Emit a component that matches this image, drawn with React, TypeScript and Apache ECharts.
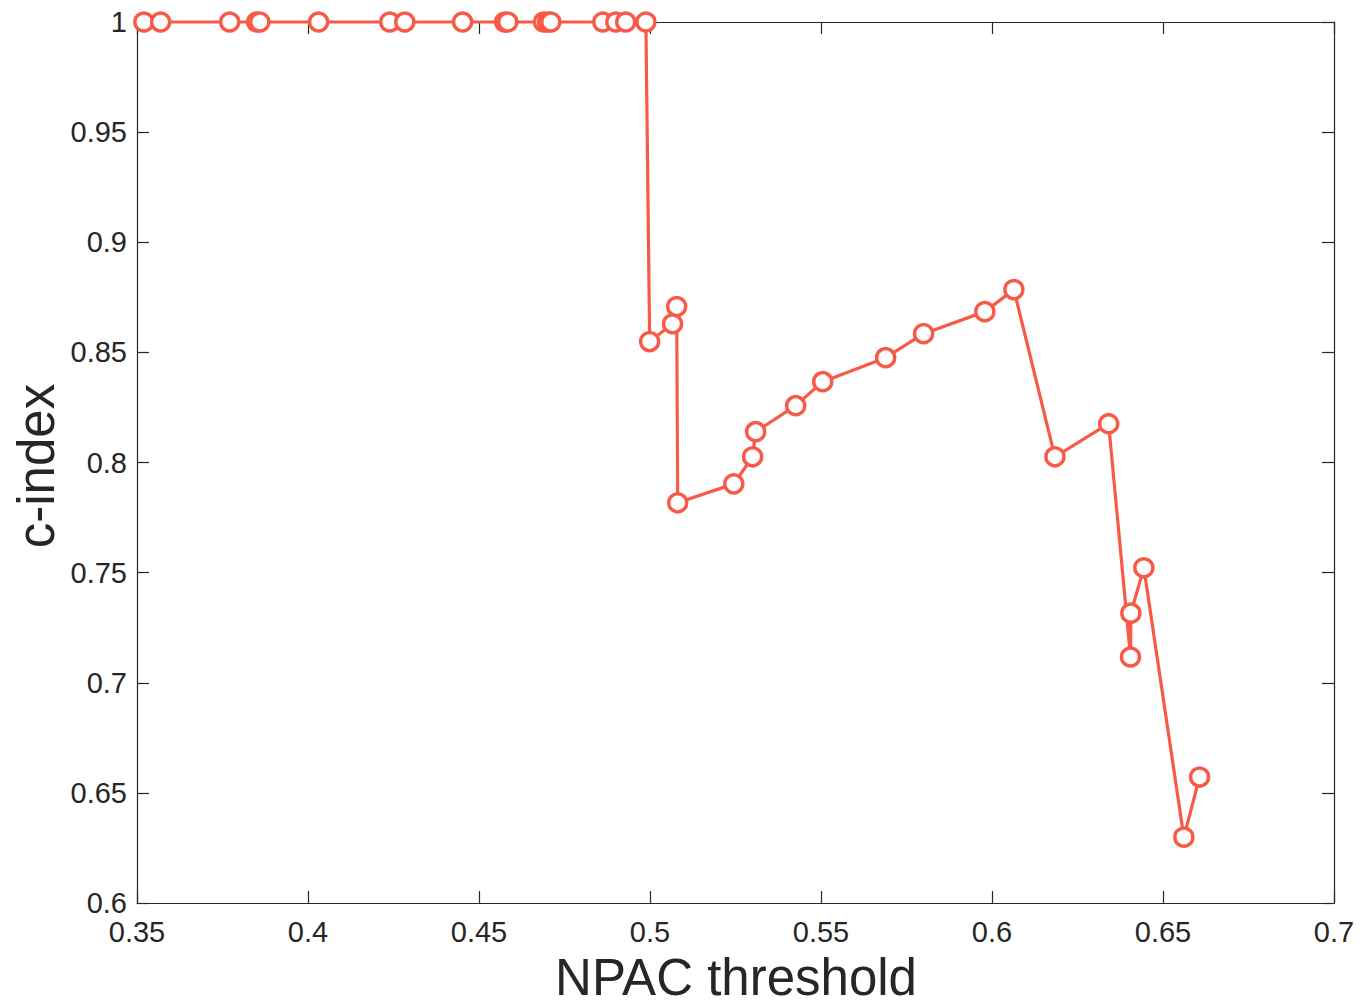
import React, { useEffect, useRef } from "react";
import * as echarts from "echarts";

const npacThreshold: number[] = [
  0.352, 0.3569, 0.3771, 0.385, 0.3859, 0.4031, 0.4239, 0.4283, 0.4452, 0.4575,
  0.4584, 0.4689, 0.4701, 0.471, 0.4862, 0.49, 0.4929, 0.4988,
  0.4999, 0.5066, 0.5078, 0.5081, 0.5245, 0.53, 0.5309, 0.5426, 0.5505, 0.5689,
  0.58, 0.5979, 0.6064, 0.6184, 0.6341, 0.6405, 0.6406, 0.6444, 0.6561, 0.6607,
];
const cIndex: number[] = [
  1, 1, 1, 1, 1, 1, 1, 1, 1, 1, 1, 1, 1, 1, 1, 1, 1, 1,
  0.8549, 0.863, 0.8708, 0.7817, 0.7903, 0.8026, 0.814, 0.8258, 0.8367, 0.8476,
  0.8585, 0.8685, 0.8785, 0.8026, 0.8176, 0.7117, 0.7316, 0.7522, 0.6299, 0.6572,
];
const xTitle = "NPAC threshold";
const yTitle = "c-index";

const FONT = "'Liberation Sans', Arial, Helvetica, sans-serif";
const INK = "#262626";
const RED = "#F85A48";

export default function App() {
  const ref = useRef<HTMLDivElement>(null);
  useEffect(() => {
    if (!ref.current) return;
    const chart = echarts.init(ref.current, undefined, { renderer: "svg" });
    const data = npacThreshold.map((x, i) => [x, cIndex[i]]);
    const axisLine = { show: true, onZero: false, lineStyle: { color: INK, width: 1.2 } };
    const tickIn = { show: true, inside: true, length: 12, lineStyle: { color: INK, width: 1.2 } };
    chart.setOption({
      animation: false,
      backgroundColor: "#ffffff",
      grid: { left: 137, right: 37, top: 22, bottom: 104, containLabel: false, outerBoundsMode: "none" },
      graphic: [
        {
          type: "text",
          x: 736,
          y: 977,
          style: {
            text: xTitle,
            fill: INK,
            font: `51px ${FONT}`,
            textAlign: "center",
            textVerticalAlign: "middle",
            lineHeight: 36,
          },
        },
        {
          type: "text",
          x: 36,
          y: 466,
          rotation: Math.PI / 2,
          style: {
            text: yTitle,
            fill: INK,
            font: `51px ${FONT}`,
            textAlign: "center",
            textVerticalAlign: "middle",
            lineHeight: 36,
          },
        },
      ],
      xAxis: [
        {
          type: "value",
          min: 0.35,
          max: 0.7,
          interval: 0.05,
          position: "bottom",
          axisLine,
          axisTick: tickIn,
          splitLine: { show: false },
          axisLabel: { color: INK, fontSize: 29, fontFamily: FONT, margin: 14 },
        },
        {
          type: "value",
          min: 0.35,
          max: 0.7,
          interval: 0.05,
          position: "top",
          axisLine,
          axisTick: tickIn,
          splitLine: { show: false },
          axisLabel: { show: false },
        },
      ],
      yAxis: [
        {
          type: "value",
          min: 0.6,
          max: 1,
          interval: 0.05,
          position: "left",
          axisLine,
          axisTick: tickIn,
          splitLine: { show: false },
          axisLabel: { color: INK, fontSize: 29, fontFamily: FONT, margin: 10 },
        },
        {
          type: "value",
          min: 0.6,
          max: 1,
          interval: 0.05,
          position: "right",
          axisLine,
          axisTick: tickIn,
          splitLine: { show: false },
          axisLabel: { show: false },
        },
      ],
      series: [
        {
          type: "line",
          xAxisIndex: 0,
          yAxisIndex: 0,
          data,
          clip: false,
          symbol: "circle",
          symbolSize: 18,
          showAllSymbol: true,
          lineStyle: { color: RED, width: 3.2 },
          itemStyle: { color: "#ffffff", borderColor: RED, borderWidth: 3.5 },
          emphasis: { disabled: true },
          z: 3,
        },
      ],
    });
    return () => chart.dispose();
  }, []);
  return (
    <div
      ref={ref}
      style={{ position: "fixed", left: 0, top: 0, width: 1371, height: 1007, background: "#fff" }}
    />
  );
}
